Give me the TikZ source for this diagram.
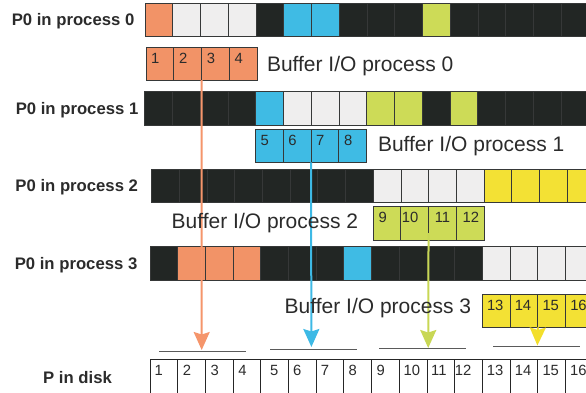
\documentclass[tikz,border=0pt]{standalone}
\usepackage{fontspec}
\setmainfont{Liberation Sans}
\usetikzlibrary{arrows.meta}
\definecolor{cor}{HTML}{F29367}
\definecolor{cgy}{HTML}{EFEEEE}
\definecolor{cdk}{HTML}{222624}
\definecolor{cbl}{HTML}{3FBBE4}
\definecolor{clm}{HTML}{CDDB57}
\definecolor{cye}{HTML}{F3E134}
\definecolor{cline}{HTML}{363838}
\definecolor{txt}{HTML}{2B2B2B}
\definecolor{aor}{HTML}{F5956B}
\definecolor{abl}{HTML}{3DB9E5}
\definecolor{alm}{HTML}{C8D755}
\definecolor{aye}{HTML}{F3DF2C}
\definecolor{hl}{HTML}{5A5A5A}
\begin{document}
\begin{tikzpicture}[x=1pt,y=-1pt,
  cell/.style={draw=cline,line width=0.9pt,minimum width=27.75pt,minimum height=33pt,inner sep=0pt,outer sep=0pt,anchor=north west},
  num/.style={anchor=base west,inner sep=0pt,text=txt,font=\fontsize{14.8}{17}\selectfont},
  lab/.style={anchor=base east,inner sep=0pt,text=txt,font=\fontsize{16.7}{20}\selectfont\bfseries},
  buf/.style={anchor=base west,inner sep=0pt,text=txt,font=\fontsize{21}{25}\selectfont},
  hline/.style={draw=hl,line width=1pt},
  arr/.style={line width=2pt,-{Stealth[width=16pt,length=18pt,inset=2.5pt]}}]
\useasboundingbox (0,0) rectangle (586,392);
\clip (0,0) rectangle (586,392);
% process rows
\foreach \c [count=\i from 0] in {cor,cgy,cgy,cgy,cdk,cbl,cbl,cdk,cdk,cdk,clm,cdk,cdk,cdk,cdk,cdk}
  \node[cell,fill=\c,minimum height=32.7pt] (r0c\i) at ({145+27.76*\i},3.3) {};
\foreach \c [count=\i from 0] in {cdk,cdk,cdk,cdk,cbl,cgy,cgy,cgy,clm,clm,cdk,clm,cdk,cdk,cdk,cdk}
  \node[cell,fill=\c,minimum height=33.3pt] (r1c\i) at ({144.7+27.76*\i},91.7) {};
\foreach \c [count=\i from 0] in {cdk,cdk,cdk,cdk,cdk,cdk,cdk,cdk,cgy,cgy,cgy,cgy,cye,cye,cye,cye}
  \node[cell,fill=\c] (r2c\i) at ({151.7+27.7*\i},169.3) {};
\foreach \c [count=\i from 0] in {cdk,cor,cor,cor,cdk,cdk,cdk,cbl,cdk,cdk,cdk,cdk,cgy,cgy,cgy,cgy}
  \node[cell,fill=\c,minimum height=33.3pt] (r3c\i) at ({150+27.7*\i},246.7) {};
% buffers
\foreach \n [count=\i from 0] in {1,2,3,4}{
  \node[cell,fill=cor,minimum height=32.7pt,minimum width=27.8pt] (b0c\i) at ({146+27.8*\i},47.3) {};
  \node[num] (b0n\i) at ([xshift=5pt,yshift=-16pt]b0c\i.north west) {\n};}
\foreach \n [count=\i from 0] in {5,6,7,8}{
  \node[cell,fill=cbl,minimum width=27.85pt] (b1c\i) at ({255.3+27.85*\i},129.3) {};
  \node[num] (b1n\i) at ([xshift=5pt,yshift=-16pt]b1c\i.north west) {\n};}
\foreach \n/\dx [count=\i from 0] in {9/5.4,10/0.8,11/6,12/6}{
  \node[cell,fill=clm,minimum height=33.2pt] (b2c\i) at ({373+27.8*\i},206.8) {};
  \node[num] (b2n\i) at ([xshift=\dx pt,yshift=-16pt]b2c\i.north west) {\n};}
\foreach \n [count=\i from 0] in {13,14,15,16}{
  \node[cell,fill=cye,minimum height=33.3pt] (b3c\i) at ({482.3+27.75*\i},294) {};
  \node[num] (b3n\i) at ([xshift=4.5pt,yshift=-16pt]b3c\i.north west) {\n};}
% disk
\foreach \n/\dx [count=\i from 0] in {1/4.5,2/5,3/5,4/5,5/9,6/4.5,7/4.5,8/4.5,9/4.7,10/4.2,11/4,12/0,13/4.2,14/4.5,15/4.5,16/4.5}{
  \node[cell,fill=white,draw=black!85,minimum height=45pt,minimum width=27.7pt] (dc\i) at ({150+27.7*\i},359.3) {};
  \node[num] (dn\i) at ([xshift=\dx pt,yshift=-16pt]dc\i.north west) {\n};}
% horizontal marks above disk
\coordinate (h0a) at (159.3,351.7);  \coordinate (h0b) at (246,351.7);
\coordinate (h1a) at (270,349.3);  \coordinate (h1b) at (356.7,349.3);
\coordinate (h2a) at (379.3,348.7);\coordinate (h2b) at (466,348.7);
\coordinate (h3a) at (493.3,346);  \coordinate (h3b) at (580,346);
\draw[hline] (h0a) -- (h0b);
\draw[hline] (h1a) -- (h1b);
\draw[hline] (h2a) -- (h2b);
\draw[hline] (h3a) -- (h3b);
% arrows
\coordinate (t0) at (201.7,350);
\coordinate (t1) at (311.4,347);
\coordinate (t2) at (428.2,348);
\coordinate (t3) at (537.4,345.5);
\draw[arr,draw=aor,fill=aor] (b0c1.south east) -- (t0);
\draw[arr,draw=abl,fill=abl] (b1c1.south east) -- (t1);
\draw[arr,draw=alm,fill=alm] ([yshift=7pt]b2c1.south east) -- (t2);
\draw[arr,draw=aye,fill=aye] (b3c1.south east) -- (t3);
% labels
\node[lab] (l0) at (134.5,25.7) {P0 in process 0};
\node[lab] (l1) at (138.5,114.3) {P0 in process 1};
\node[lab] (l2) at (138.2,191.6) {P0 in process 2};
\node[lab] (l3) at (137.5,269.3) {P0 in process 3};
\node[lab,anchor=base west] (ld) at (43,383.5) {P in disk};
\node[buf] (t0l) at (266.8,71) {Buffer I/O process 0};
\node[buf] (t1l) at (377.8,151.7) {Buffer I/O process 1};
\node[buf] (t2l) at (171.5,228.3) {Buffer I/O process 2};
\node[buf] (t3l) at (284.5,313.3) {Buffer I/O process 3};
\end{tikzpicture}
\end{document}
